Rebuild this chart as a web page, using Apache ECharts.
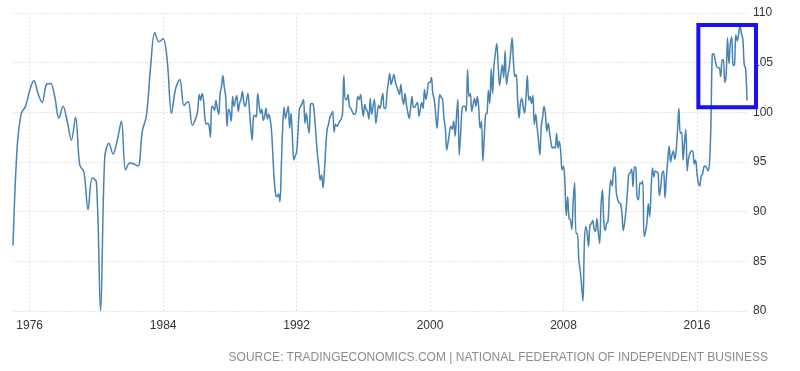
<!DOCTYPE html>
<html>
<head>
<meta charset="utf-8">
<script src="https://cdn.jsdelivr.net/npm/echarts@6/dist/echarts.min.js"></script>
<style>
html,body{margin:0;padding:0;background:#fff;}
#chart{width:800px;height:371px;}
</style>
</head>
<body>
<div id="chart"></div>
<script>
// Quarterly readings 1975Q1 .. 1985Q4 (plotted at Jan/Apr/Jul/Oct)
const quarterlyStartYear = 1975;
const quarterlyValues = [
  86.6, 96.5, 99.9, 100.6,
  102.2, 103.2, 101.9, 101.0,
  102.8, 102.9, 101.6, 99.4,
  100.6, 99.1, 97.2, 99.5,
  94.7, 94.0, 90.2, 93.4,
  93.0, 80.0, 95.5, 96.9,
  95.8, 97.2, 99.1, 94.2,
  94.9, 94.8, 94.6, 98.1,
  99.7, 104.6, 108.0, 107.1,
  107.4, 105.1, 99.9, 102.4,
  103.3, 100.7, 101.1, 98.7
];
// Monthly readings Jan 1986 .. Jan 2019
const monthlyStartYear = 1986;
const monthlyValues = [
  99.6, 100.4, 101.8, 101.2, 101.9, 101.3, 99.5, 98.8, 98.9, 98.7, 97.5, 100.6,
  100.5, 100.2, 101.2, 100.4, 99.8, 101.9, 102.6, 103.7, 102.5, 101.6, 98.6, 100.3,
  100.0, 99.1, 101.6, 100.6, 101.2, 101.7, 100.1, 100.9, 101.3, 102.1, 101.0, 100.6,
  101.2, 101.9, 100.4, 98.5, 97.2, 99.6, 99.7, 99.5, 101.9, 100.8, 99.9, 100.3,
  99.2, 99.6, 100.4, 99.3, 99.8, 99.3, 98.1, 95.5, 93.0, 91.7, 91.5, 91.8,
  91.0, 94.5, 98.5, 100.5, 99.4, 100.0, 100.6, 98.4, 99.9, 97.5, 95.2, 95.6,
  96.0, 98.0, 100.3, 100.6, 100.9, 101.3, 98.9, 99.9, 98.8, 97.9, 100.8, 100.9,
  100.8, 99.5, 97.6, 95.8, 94.5, 93.2, 93.7, 92.4, 94.0, 96.5, 98.3, 98.8,
  99.5, 99.8, 100.1, 98.0, 98.8, 98.6, 98.8, 99.1, 99.3, 99.8, 103.7, 101.3,
  101.3, 101.8, 100.6, 100.4, 100.1, 99.8, 99.8, 100.3, 101.6, 101.3, 101.8, 100.6,
  99.6, 100.8, 100.3, 100.1, 99.3, 101.4, 99.8, 100.6, 101.3, 98.9, 99.9, 100.7,
  100.4, 101.2, 101.9, 100.4, 100.4, 101.9, 103.0, 103.9, 102.8, 103.3, 103.8, 103.1,
  102.6, 102.2, 101.8, 102.8, 101.5, 100.8, 101.9, 100.8, 100.0, 99.4, 100.4, 101.6,
  100.5, 100.5, 100.8, 101.0, 99.6, 100.3, 101.0, 100.4, 102.3, 101.3, 102.0, 103.0,
  103.0, 103.5, 101.9, 101.3, 99.9, 98.4, 100.2, 101.8, 101.5, 101.3, 99.4, 98.4,
  96.2, 97.0, 98.0, 98.6, 98.3, 99.1, 97.6, 99.5, 101.3, 95.7, 97.8, 100.3,
  100.6, 100.6, 100.1, 104.3, 101.6, 101.9, 100.1, 100.8, 101.4, 100.6, 101.6, 100.5,
  98.4, 99.1, 95.1, 97.5, 99.8, 99.9, 102.2, 100.9, 104.4, 101.9, 104.8, 105.9,
  106.9, 104.8, 102.7, 103.8, 104.8, 103.5, 106.2, 102.8, 103.8, 104.6, 106.0, 107.5,
  105.1, 103.6, 103.8, 101.3, 99.4, 100.9, 101.4, 100.6, 99.9, 101.5, 103.7, 101.2,
  101.6, 100.9, 101.7, 98.8, 99.8, 98.5, 97.2, 95.7, 98.6, 99.5, 100.6, 99.8,
  98.1, 98.9, 97.9, 97.0, 96.4, 96.5, 96.4, 97.9, 96.4, 97.1, 96.0, 94.2,
  94.6, 92.9, 89.6, 91.5, 89.3, 89.2, 88.2, 91.1, 92.9, 87.8, 87.8, 85.2,
  84.1, 82.6, 81.0, 86.8, 88.5, 87.9, 86.5, 88.6, 88.8, 89.1, 88.3, 88.0,
  89.3, 88.0, 86.8, 90.6, 92.2, 89.0, 88.1, 88.8, 89.0, 91.7, 93.2, 92.6,
  94.1, 94.5, 91.9, 91.2, 90.9, 90.8, 89.9, 88.1, 88.9, 90.2, 92.0, 93.8,
  93.9, 94.3, 92.5, 94.5, 94.4, 91.4, 91.2, 92.9, 92.8, 93.1, 87.5, 88.0,
  88.9, 90.8, 89.5, 92.1, 94.4, 93.5, 94.1, 94.0, 93.9, 91.6, 92.5, 93.9,
  94.1, 91.4, 93.4, 95.2, 96.6, 95.0, 95.7, 96.1, 95.3, 96.1, 98.1, 100.4,
  97.9, 98.0, 95.2, 96.9, 98.3, 94.1, 95.4, 95.9, 96.1, 96.1, 94.8, 95.2,
  93.9, 92.9, 92.6, 93.6, 93.8, 94.5, 94.6, 94.4, 94.1, 94.9, 98.4, 105.8,
  105.9, 105.3, 104.7, 104.5, 104.5, 103.6, 105.2, 105.3, 103.0, 103.8, 107.5, 104.9,
  106.9, 107.6, 104.7, 104.8, 107.8, 107.2, 107.9, 108.8, 107.9, 107.4, 104.8, 104.4,
  101.2
];
const xTickYears = [1976, 1984, 1992, 2000, 2008, 2016];
const yMin = 80, yMax = 110, yStep = 5;
const sourceText = 'SOURCE: TRADINGECONOMICS.COM | NATIONAL FEDERATION OF INDEPENDENT BUSINESS';
const boxFrom = ['2016-02', 108.8];
const boxTo = ['2019-01', 100.5];

// build monthly categories
const categories = [];
const totalMonths = (monthlyStartYear - quarterlyStartYear) * 12 + monthlyValues.length;
for (let i = 0; i < totalMonths; i++) {
  const y = quarterlyStartYear + Math.floor(i / 12);
  const m = (i % 12) + 1;
  categories.push(y + '-' + (m < 10 ? '0' + m : m));
}
const quarterlyMonths = (monthlyStartYear - quarterlyStartYear) * 12;
const seriesData = categories.map((c, i) => {
  if (i < quarterlyMonths) return (i % 3 === 0) ? quarterlyValues[i / 3] : null;
  return monthlyValues[i - quarterlyMonths];
});
const isTick = (idx, v) => v.slice(5) === '01' && xTickYears.indexOf(+v.slice(0, 4)) >= 0;

const chart = echarts.init(document.getElementById('chart'), null, {renderer: 'canvas'});
chart.setOption({
  animation: false,
  backgroundColor: '#ffffff',
  grid: {left: 13, right: 53, top: 13, bottom: 60, containLabel: false},
  xAxis: {
    type: 'category',
    data: categories,
    boundaryGap: false,
    axisLine: {show: false},
    axisTick: {show: false},
    axisLabel: {
      interval: isTick,
      formatter: v => v.slice(0, 4),
      color: '#333',
      fontSize: 12,
      fontFamily: 'Liberation Sans, Arial, sans-serif',
      margin: 9
    },
    splitLine: {
      show: true,
      interval: isTick,
      lineStyle: {color: '#e3e3e3', type: [2, 2], width: 1}
    }
  },
  yAxis: {
    type: 'value',
    position: 'right',
    min: yMin,
    max: yMax,
    interval: yStep,
    axisLine: {show: false},
    axisTick: {show: false},
    axisLabel: {
      color: '#333',
      fontSize: 12,
      fontFamily: 'Liberation Sans, Arial, sans-serif',
      margin: 6
    },
    splitLine: {lineStyle: {color: '#e6e6e6', type: [2, 1], width: 1}}
  },
  series: [{
    type: 'line',
    data: seriesData,
    connectNulls: true,
    smooth: 0.35,
    showSymbol: false,
    symbol: 'none',
    lineStyle: {color: '#4682B4', width: 1.5},
    z: 3
  }]
});

const p1 = chart.convertToPixel({gridIndex: 0}, boxFrom);
const p2 = chart.convertToPixel({gridIndex: 0}, boxTo);
chart.setOption({
  graphic: [
    {
      type: 'rect',
      shape: {x: p1[0], y: p1[1], width: (p2[0] + 9) - p1[0], height: p2[1] - p1[1]},
      style: {fill: 'none', stroke: '#1a10f5', lineWidth: 4},
      z: 10
    },
    {
      type: 'text',
      right: 32,
      top: 352,
      style: {
        text: sourceText,
        fill: '#8c8c8c',
        font: "12px 'Liberation Sans', Arial, sans-serif"
      }
    }
  ]
});
</script>
</body>
</html>
